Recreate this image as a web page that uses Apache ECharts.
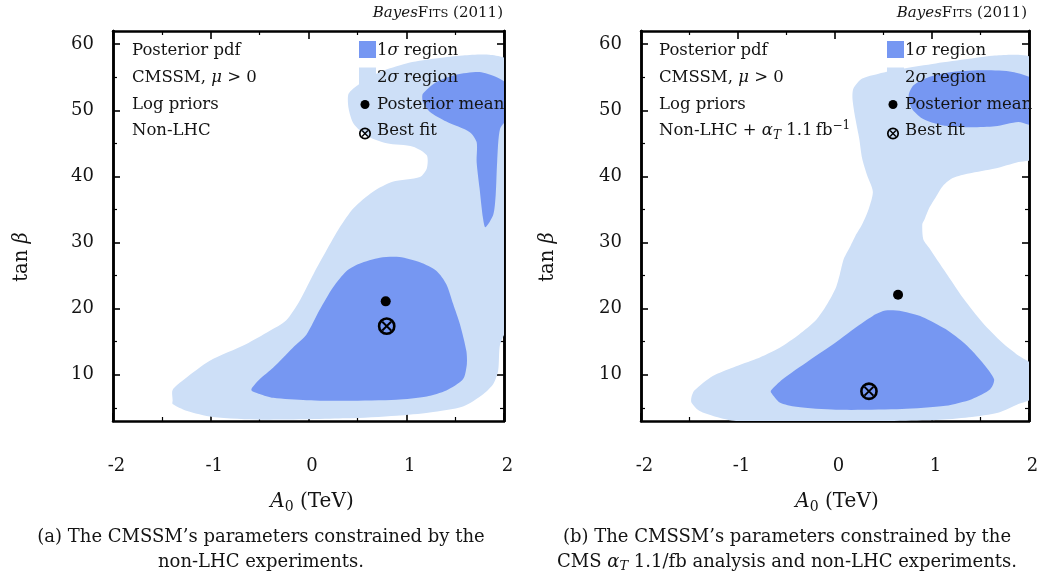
<!DOCTYPE html>
<html>
<head>
<meta charset="utf-8">
<script src="https://cdn.jsdelivr.net/npm/echarts@6/dist/echarts.min.js"></script>
<style>
  html, body { margin: 0; padding: 0; background: #fff; }
  #chart { width: 1047px; height: 578px; }
</style>
</head>
<body>
<div id="chart"></div>
<script>
// ---- axes ----
const xMin = -2, xMax = 2, xStep = 1;
const yMin = 3, yMax = 62;
const yMajor = [10, 20, 30, 40, 50, 60];
const yMinor = [5, 15, 25, 35, 45, 55];

// ---- panel (a): non-LHC ----
const a2sigma = [
  [-1.39, 6.1], [-1.39, 7.7], [-1.27, 9.3], [-1.01, 12.1], [-0.64, 14.6], [-0.40, 16.6],
  [-0.23, 18.2], [-0.09, 21.2], [0.05, 25.2], [0.18, 28.7], [0.32, 32.3], [0.46, 35.2],
  [0.66, 37.7], [0.86, 39.2], [1.14, 39.9], [1.21, 41.2], [1.21, 43.2], [1.07, 44.5],
  [0.80, 45.0], [0.59, 46.2], [0.46, 48.0], [0.41, 50.3], [0.41, 52.5], [0.52, 54.0],
  [0.73, 55.8], [1.00, 57.1], [1.27, 57.8], [1.58, 58.3], [1.85, 58.4], [2.05, 57.5],
  [2.1, 50], [2.1, 40], [2.1, 30], [2.1, 21], [2.05, 17.6], [1.96, 14.6], [1.94, 10.6],
  [1.89, 8.6], [1.79, 7.1], [1.58, 5.2], [1.24, 4.3], [0.90, 3.8], [0.39, 3.4],
  [-0.47, 3.2], [-0.98, 3.6], [-1.25, 4.55], [-1.39, 5.56]
];
const a1sigmaLow = [
  [-0.585, 7.7], [-0.50, 9.3], [-0.36, 11.1], [-0.16, 14.1], [-0.02, 16.1], [0.11, 19.7],
  [0.25, 23.2], [0.39, 25.7], [0.52, 26.8], [0.73, 27.7], [0.93, 27.8], [1.14, 27.0],
  [1.31, 25.7], [1.41, 23.7], [1.48, 20.7], [1.55, 17.6], [1.615, 13.6], [1.62, 11.6],
  [1.58, 9.3], [1.41, 7.6], [1.21, 6.7], [0.90, 6.2], [0.39, 6.05], [-0.02, 6.15],
  [-0.36, 6.5], [-0.50, 7.1]
];
const a1sigmaHigh = [
  [1.17, 52.5], [1.31, 54.3], [1.51, 55.4], [1.75, 55.8], [1.92, 55.05], [2.05, 53.8],
  [2.1, 51.4], [2.05, 49.0], [1.96, 47.2], [1.93, 42.2], [1.915, 37.2], [1.89, 34.2],
  [1.81, 32.3], [1.785, 33.7], [1.75, 38.2], [1.72, 42.2], [1.72, 45.2], [1.65, 46.7],
  [1.41, 48.3], [1.24, 49.8], [1.17, 51.3]
];
const aMean = [[0.79, 21.1]];
const aBest = [[0.80, 17.35]];

// ---- panel (b): non-LHC + alphaT 1.1/fb ----
const b2sigma = [
  [-1.48, 5.8], [-1.48, 6.6], [-1.45, 7.6], [-1.26, 9.8], [-1.05, 11.1], [-0.81, 12.4],
  [-0.57, 14.1], [-0.37, 16.1], [-0.20, 18.2], [-0.08, 20.7], [0.01, 23.2], [0.05, 25.2],
  [0.09, 27.5], [0.15, 29.2], [0.21, 31.0], [0.28, 32.75], [0.35, 35.2], [0.39, 37.7],
  [0.33, 40.2], [0.28, 42.7], [0.25, 45.7], [0.21, 48.75], [0.18, 51.8], [0.19, 53.3],
  [0.28, 54.8], [0.45, 55.55], [0.69, 56.3], [1.04, 57.1], [1.38, 57.8], [1.65, 58.3],
  [1.89, 58.4], [2.05, 57.8], [2.1, 52], [2.1, 47], [2.05, 42.7], [1.89, 42.2],
  [1.65, 41.2], [1.38, 40.45], [1.22, 39.8], [1.12, 38.7], [1.04, 36.9], [0.97, 35.2],
  [0.92, 33.4], [0.90, 32.75], [0.91, 30.5], [0.97, 29.2], [1.07, 27.0], [1.19, 24.4],
  [1.33, 21.4], [1.52, 17.9], [1.72, 14.9], [1.89, 12.9], [2.05, 11.4], [2.1, 9],
  [2.05, 6.5], [1.89, 5.56], [1.69, 4.3], [1.38, 3.55], [1.04, 3.14], [0.01, 2.9],
  [-1.02, 3.0], [-1.23, 3.65], [-1.40, 4.55]
];
const b1sigmaLow = [
  [-0.66, 7.6], [-0.54, 9.3], [-0.27, 12.1], [0.01, 14.9], [0.21, 17.1], [0.39, 18.9],
  [0.52, 19.7], [0.69, 19.6], [0.90, 18.75], [1.14, 16.9], [1.345, 14.6], [1.52, 11.85],
  [1.64, 9.3], [1.60, 7.8], [1.41, 6.3], [1.14, 5.3], [0.69, 4.8], [0.01, 4.7],
  [-0.40, 5.15], [-0.57, 5.8], [-0.66, 7.3]
];
const b1sigmaHigh = [
  [0.76, 52.3], [0.81, 53.8], [0.97, 55.05], [1.21, 55.8], [1.55, 56.05], [1.83, 55.8],
  [2.05, 54.6], [2.1, 51.2], [2.05, 47.8], [1.89, 48.25], [1.65, 47.6], [1.38, 47.45],
  [1.10, 47.75], [0.90, 48.75], [0.79, 50.3]
];
const bMean = [[0.65, 22.1]];
const bBest = [[0.35, 7.5]];

// ---- text ----
const infoA = ['Posterior pdf', 'CMSSM, {i|μ} > 0', 'Log priors', 'Non-LHC'];
const infoB = ['Posterior pdf', 'CMSSM, {i|μ} > 0', 'Log priors', 'Non-LHC + {i|α}{isub|T} 1.1\u2009fb{sup|\u22121}'];
const legendNames = ['1{i|σ} region', '2{i|σ} region', 'Posterior mean', 'Best fit'];
const captionA = ['(a) The CMSSM’s parameters constrained by the', 'non-LHC experiments.'];
const captionB = ['(b) The CMSSM’s parameters constrained by the', 'CMS {i|α}{isub|T} 1.1/fb analysis and non-LHC experiments.'];

// ---- style ----
const FONT = 'DejaVu Serif';
const INK = '#141414';
const C1 = '#7697f2';
const C2 = '#cddff7';

function rich(size) {
  const small = Math.round(size * 0.7);
  return {
    i:    { fontFamily: FONT, fontSize: size, fontStyle: 'italic', fill: INK },
    sub:  { fontFamily: FONT, fontSize: small, fill: INK, padding: [Math.round(size * 0.55), 0, 0, 0] },
    isub: { fontFamily: FONT, fontSize: small, fontStyle: 'italic', fill: INK, padding: [Math.round(size * 0.55), 0, 0, 0] },
    sup:  { fontFamily: FONT, fontSize: small, fill: INK, padding: [0, 0, Math.round(size * 0.6), 0] }
  };
}

function text(x, y, str, size, align, extra) {
  return Object.assign({
    type: 'text', x, y, z: 50, silent: true,
    style: {
      text: str, fontFamily: FONT, fontSize: size, fill: INK,
      align: align || 'left', verticalAlign: 'middle', rich: rich(size)
    }
  }, extra || {});
}

const grids = [
  { left: 113, top: 31, width: 391, height: 390 },
  { left: 641, top: 31, width: 388, height: 390 }
];

const frameLine = { show: true, onZero: false, lineStyle: { color: '#000', width: 2.5 } };

function xAxes(g) {
  const base = {
    gridIndex: g, type: 'value', min: xMin, max: xMax, interval: xStep,
    axisLine: frameLine, splitLine: { show: false },
    axisTick: { show: true, inside: true, length: 8, lineStyle: { color: '#000', width: 1.6 } },
    minorTick: { show: true, splitNumber: 2, length: 4, lineStyle: { color: '#000', width: 1.2 } }
  };
  return [
    Object.assign({}, base, {
      position: 'bottom',
      axisLabel: { show: true, margin: 36, fontFamily: FONT, fontSize: 18, color: INK, padding: [0, 0, 0, 7] }
    }),
    Object.assign({}, base, { position: 'top', axisLabel: { show: false } })
  ];
}

function yAxes(g) {
  const base = {
    gridIndex: g, type: 'value', min: yMin, max: yMax,
    axisLine: frameLine, splitLine: { show: false }
  };
  const major = { show: true, inside: true, length: 7, customValues: yMajor, lineStyle: { color: '#000', width: 1.6 } };
  const minor = { show: true, inside: true, length: 4, customValues: yMinor, lineStyle: { color: '#000', width: 1.2 } };
  return [
    Object.assign({}, base, {
      position: 'left', axisTick: major,
      axisLabel: { show: true, customValues: yMajor, margin: 19, fontFamily: FONT, fontSize: 18, color: INK }
    }),
    Object.assign({}, base, { position: 'left', axisTick: minor, axisLabel: { show: false } }),
    Object.assign({}, base, { position: 'right', axisTick: major, axisLabel: { show: false } }),
    Object.assign({}, base, { position: 'right', axisTick: minor, axisLabel: { show: false } })
  ];
}

function region(pts, color, g, z) {
  return {
    type: 'custom', xAxisIndex: g * 2, yAxisIndex: g * 4, clip: true, silent: true, z,
    data: pts,
    renderItem(params, api) {
      if (params.dataIndex !== 0) return null;
      const points = pts.map(p => api.coord(p));
      return { type: 'polygon', shape: { points, smooth: 0.25 }, style: { fill: color } };
    }
  };
}

function meanSeries(pts, g) {
  return {
    type: 'scatter', xAxisIndex: g * 2, yAxisIndex: g * 4, z: 5, silent: true,
    symbol: 'circle', symbolSize: 10, itemStyle: { color: '#000', opacity: 1 }, data: pts
  };
}

function bestSeries(pts, g) {
  return {
    type: 'custom', xAxisIndex: g * 2, yAxisIndex: g * 4, z: 6, silent: true, data: pts,
    renderItem(params, api) {
      const c = api.coord([api.value(0), api.value(1)]);
      const r = 7.6, d = 4.4;
      return {
        type: 'group', children: [
          { type: 'circle', shape: { cx: c[0], cy: c[1], r }, style: { fill: 'none', stroke: '#000', lineWidth: 2.6 } },
          { type: 'line', shape: { x1: c[0] - d, y1: c[1] - d, x2: c[0] + d, y2: c[1] + d }, style: { stroke: '#000', lineWidth: 2 } },
          { type: 'line', shape: { x1: c[0] - d, y1: c[1] + d, x2: c[0] + d, y2: c[1] - d }, style: { stroke: '#000', lineWidth: 2 } }
        ]
      };
    }
  };
}

// ---- decorations for one panel ----
const rowY = [51, 78, 104.5, 131];
function panelGraphics(p) {
  const els = [];
  p.info.forEach((s, k) => els.push(text(p.infoX, rowY[k], s, 16.5)));
  // key
  const kx = p.keyX;
  els.push({ type: 'rect', z: 50, silent: true, shape: { x: kx, y: 41, width: 17, height: 17 }, style: { fill: C1 } });
  els.push({ type: 'rect', z: 50, silent: true, shape: { x: kx, y: 67.5, width: 17, height: 17 }, style: { fill: C2 } });
  els.push({ type: 'circle', z: 50, silent: true, shape: { cx: kx + 6, cy: rowY[2], r: 4.5 }, style: { fill: '#000' } });
  const bx = kx + 6, by = rowY[3] + 2.5, d = 2.9;
  els.push({ type: 'circle', z: 50, silent: true, shape: { cx: bx, cy: by, r: 5.2 }, style: { fill: 'none', stroke: '#000', lineWidth: 1.7 } });
  els.push({ type: 'line', z: 50, silent: true, shape: { x1: bx - d, y1: by - d, x2: bx + d, y2: by + d }, style: { stroke: '#000', lineWidth: 1.4 } });
  els.push({ type: 'line', z: 50, silent: true, shape: { x1: bx - d, y1: by + d, x2: bx + d, y2: by - d }, style: { stroke: '#000', lineWidth: 1.4 } });
  legendNames.forEach((s, k) => els.push(text(kx + 18, rowY[k], s, 16.5)));
  // header tag
  els.push({
    type: 'text', x: p.tagX, y: 13, z: 50, silent: true,
    style: {
      text: '{a|Bayes}{b|F}{c|ITS}{b| (2011)}', align: 'right', verticalAlign: 'middle',
      rich: {
        a: { fontFamily: FONT, fontSize: 15, fontStyle: 'italic', fill: INK, verticalAlign: 'bottom' },
        b: { fontFamily: FONT, fontSize: 15, fill: INK, verticalAlign: 'bottom' },
        c: { fontFamily: FONT, fontSize: 11.5, fill: INK, verticalAlign: 'bottom', padding: [0, 0, 0.5, 0] }
      }
    }
  });
  // axis titles
  els.push(text(p.xTitleX, 502, '{i|A}{sub|0} (TeV)', 20, 'center'));
  els.push(text(p.yTitleX, 257, 'tan {i|β}', 19.5, 'center', { rotation: Math.PI / 2 }));
  // caption
  els.push(text(p.capX, 537, p.caption[0], 18, 'center'));
  els.push(text(p.capX, 562, p.caption[1], 18, 'center'));
  return els;
}

const graphics = [].concat(
  panelGraphics({ info: infoA, infoX: 132, keyX: 359, tagX: 503, xTitleX: 312, yTitleX: 22, capX: 261, caption: captionA }),
  panelGraphics({ info: infoB, infoX: 659, keyX: 887, tagX: 1027, xTitleX: 837, yTitleX: 548, capX: 787, caption: captionB })
);

const chart = echarts.init(document.getElementById('chart'), null, { renderer: 'canvas' });
chart.setOption({
  animation: false,
  backgroundColor: '#fff',
  grid: grids,
  xAxis: [].concat(xAxes(0), xAxes(1)),
  yAxis: [].concat(yAxes(0), yAxes(1)),
  series: [
    region(a2sigma, C2, 0, 1),
    region(a1sigmaLow, C1, 0, 2),
    region(a1sigmaHigh, C1, 0, 2),
    meanSeries(aMean, 0),
    bestSeries(aBest, 0),
    region(b2sigma, C2, 1, 1),
    region(b1sigmaLow, C1, 1, 2),
    region(b1sigmaHigh, C1, 1, 2),
    meanSeries(bMean, 1),
    bestSeries(bBest, 1)
  ],
  graphic: { elements: graphics }
});
</script>
</body>
</html>
